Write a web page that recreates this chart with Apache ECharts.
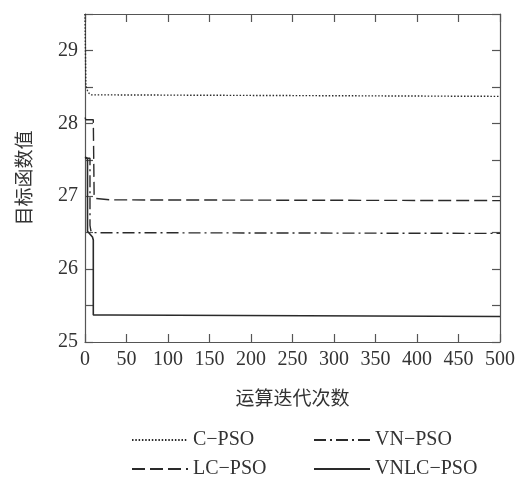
<!DOCTYPE html>
<html>
<head>
<meta charset="utf-8">
<script src="https://cdn.jsdelivr.net/npm/echarts@6/dist/echarts.min.js"></script>
<style>html,body{margin:0;padding:0;background:#fff;}#c{width:520px;height:482px;}</style>
</head>
<body>
<div id="c"></div>
<script>
// Series names
const seriesNames = ['C−PSO', 'LC−PSO', 'VN−PSO', 'VNLC−PSO'];
// Iteration (x) and objective value (y) for each series
const iterC = [0, 1, 3, 5, 8, 35, 36, 500];
const valC  = [29.5, 28.52, 28.45, 28.41, 28.39, 28.39, 28.37, 28.37];
const iterLC = [0, 1, 1, 10, 11, 12, 14, 30, 500];
const valLC  = [28.08, 28.08, 28.05, 28.05, 27.0, 26.97, 26.95, 26.95, 26.94];
const iterVN = [0, 6, 6, 7, 9, 500];
const valVN  = [27.52, 27.52, 26.6, 26.53, 26.5, 26.49];
const iterVNLC = [0, 3, 3, 5, 9, 10, 10, 30, 31, 500];
const valVNLC  = [27.54, 27.52, 26.52, 26.5, 26.44, 26.4, 25.37, 25.37, 25.35, 25.35];
// Axis settings
const xMin = 0, xMax = 500, xStep = 50;
const yMin = 25, yMax = 29.5, yStep = 0.5;
const xTitle = '运算迭代次数';
const yTitle = '目标函数值';

const pairs = (xs, ys) => xs.map((x, i) => [x, ys[i]]);
const lineColor = '#2a2a2a';
const axisColor = '#555';
const serif = '"Liberation Serif", "DejaVu Serif", serif';

const styles = [
  {type: [1.5, 1.8], width: 1.4},
  {type: [13, 5], width: 1.4},
  {type: [12, 4, 2, 4], width: 1.4},
  {type: 'solid', width: 1.6}
];
const dataSets = [pairs(iterC, valC), pairs(iterLC, valLC), pairs(iterVN, valVN), pairs(iterVNLC, valVNLC)];

const chart = echarts.init(document.getElementById('c'), null, {renderer: 'canvas'});
const commonAxis = {
  axisLine: {show: true, onZero: false, lineStyle: {color: axisColor, width: 1.2}},
  axisTick: {show: true, inside: true, length: 8, lineStyle: {color: axisColor, width: 1.2}},
  splitLine: {show: false}
};
const legendCommon = {
  orient: 'vertical', top: 424, height: 80, itemWidth: 56, itemHeight: 20, itemGap: 7,
  textStyle: {fontFamily: serif, fontSize: 20, color: '#333', lineHeight: 22},
  itemStyle: {color: 'rgba(0,0,0,0)', borderWidth: 0, opacity: 0},
  selectedMode: false
};
chart.setOption({
  animation: false,
  backgroundColor: '#fff',
  grid: {left: 85, right: 20, top: 14, bottom: 140, containLabel: false},
  legend: [
    Object.assign({}, legendCommon, {left: 126, data: [seriesNames[0], seriesNames[1]]}),
    Object.assign({}, legendCommon, {left: 308, data: [seriesNames[2], seriesNames[3]]})
  ],
  xAxis: [
    Object.assign({}, commonAxis, {
      type: 'value', min: xMin, max: xMax, interval: xStep, position: 'bottom',
      name: xTitle, nameLocation: 'middle', nameGap: 46,
      nameTextStyle: {fontFamily: '"Noto Sans CJK SC", sans-serif', fontSize: 19, color: '#333'},
      axisLabel: {fontFamily: serif, fontSize: 20, color: '#333', margin: 8}
    }),
    Object.assign({}, commonAxis, {
      type: 'value', min: xMin, max: xMax, interval: xStep, position: 'top',
      axisLabel: {show: false}
    })
  ],
  yAxis: [
    Object.assign({}, commonAxis, {
      type: 'value', min: yMin, max: yMax, interval: yStep, position: 'left',
      name: yTitle, nameLocation: 'middle', nameGap: 52, nameRotate: 90,
      nameTextStyle: {fontFamily: '"Noto Sans CJK SC", sans-serif', fontSize: 19, color: '#333'},
      axisLabel: {fontFamily: serif, fontSize: 20, color: '#333', margin: 7,
        formatter: v => (Math.abs(v - Math.round(v)) < 1e-6 ? String(Math.round(v)) : '')}
    }),
    Object.assign({}, commonAxis, {
      type: 'value', min: yMin, max: yMax, interval: yStep, position: 'right',
      axisLabel: {show: false}
    })
  ],
  series: dataSets.map((d, i) => ({
    name: seriesNames[i],
    type: 'line',
    data: d,
    showSymbol: false,
    symbol: 'none',
    symbolSize: 0,
    smooth: false,
    clip: true,
    color: lineColor,
    lineStyle: Object.assign({color: lineColor}, styles[i]),
    emphasis: {disabled: true}
  }))
});
</script>
</body>
</html>
